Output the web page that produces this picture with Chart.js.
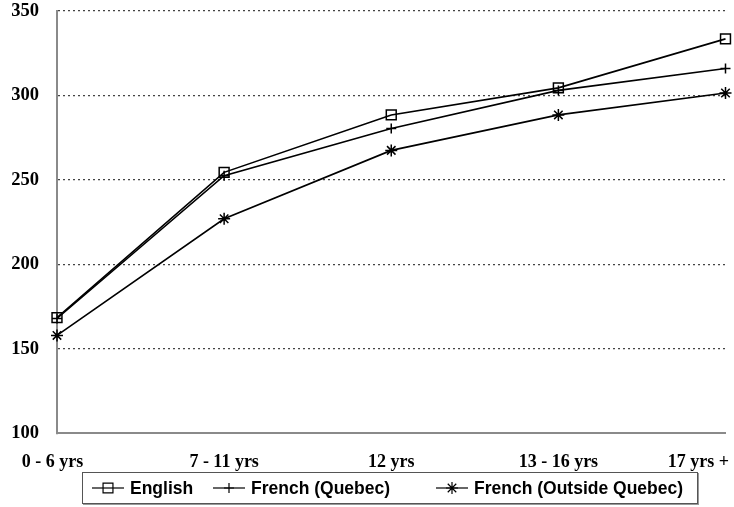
<!DOCTYPE html>
<html>
<head>
<meta charset="utf-8">
<script src="https://cdn.jsdelivr.net/npm/chart.js@4"></script>
<style>
  body { margin: 0; background: #fff; }
  #wrap { position: relative; width: 734px; height: 507px; }
  #legend {
    position: absolute; left: 82px; top: 472px; width: 614px; height: 30px;
    border: 1px solid #555; box-shadow: 1px 1px 0 #999;
    font: bold 17.5px "Liberation Sans", Arial, sans-serif; color: #000;
  }
  .item { position: absolute; top: 0; height: 30px; display: flex; align-items: center; white-space: nowrap; }
  .item canvas { margin-right: 6px; }
</style>
</head>
<body>
<div id="wrap">
  <canvas id="line-chart" width="734" height="507"></canvas>
  <div id="legend"></div>
</div>
<script>
const categories = ["0 - 6 yrs", "7 - 11 yrs", "12 yrs", "13 - 16 yrs", "17 yrs +"];
const english = [168.5, 254.5, 288.5, 304.5, 333.5];
const frenchQuebec = [168, 252.5, 280.5, 303, 316];
const frenchOutside = [158, 227, 267.5, 288.5, 301.5];
const yTicks = [100, 150, 200, 250, 300, 350];

const series = [
  { label: "English", data: english, style: "rect", radius: 7 },
  { label: "French (Quebec)", data: frenchQuebec, style: "cross", radius: 5 },
  { label: "French (Outside Quebec)", data: frenchOutside, style: "star", radius: 6 }
];

const serif = "'Liberation Serif', 'Times New Roman', serif";

const ctx = document.getElementById("line-chart");
const myChart = new Chart(ctx, {
  type: "line",
  data: {
    labels: categories,
    datasets: series.map(s => ({
      label: s.label,
      data: s.data,
      borderColor: "#000",
      borderWidth: 1.6,
      pointStyle: s.style,
      pointRadius: s.radius,
      pointBorderWidth: 1.5,
      pointBorderColor: "#000",
      pointBackgroundColor: "rgba(0,0,0,0)",
      tension: 0
    }))
  },
  options: {
    responsive: false,
    animation: false,
    layout: { padding: { top: 11, right: 8, bottom: 16, left: 0 } },
    plugins: {
      legend: { display: false },
      tooltip: { enabled: false }
    },
    scales: {
      x: {
        offset: false,
        grid: { display: false, drawTicks: false },
        border: { display: true, color: "#8a8a8a", width: 2 },
        ticks: {
          padding: 18,
          maxRotation: 0,
          autoSkip: false,
          color: "#000",
          font: { family: serif, size: 18, weight: "bold" },
          callback: function (v, i) {
            const t = categories[i];
            if (i === categories.length - 1) return t + "\u2003\u2003\u2003";
            if (i === 0) return t + "  ";
            return t;
          }
        },
        afterFit: function (scale) {
          scale.paddingLeft = 0;
          scale.paddingRight = 0;
        }
      },
      y: {
        min: 100,
        max: 350,
        afterBuildTicks: function (scale) {
          scale.ticks = yTicks.map(v => ({ value: v }));
        },
        grid: {
          drawTicks: false,
          color: c => c.tick && c.tick.value === 100 ? "rgba(0,0,0,0)" : "#444",
          lineWidth: 1.2
        },
        border: { display: true, color: "#8a8a8a", width: 2, dash: [2, 3] },
        ticks: {
          padding: 18,
          color: "#000",
          font: { family: serif, size: 18.5, weight: "bold" }
        },
        afterFit: function (scale) {
          scale.width = 57;
          scale.paddingTop = 0;
        }
      }
    }
  }
});

// legend: line + marker icon, then the label
const legendEl = document.getElementById("legend");
const iconX = [9, 130, 353];
series.forEach((s, i) => {
  const item = document.createElement("div");
  item.className = "item";
  item.style.left = iconX[i] + "px";
  const ic = document.createElement("canvas");
  ic.width = 32; ic.height = 20;
  const g = ic.getContext("2d");
  g.strokeStyle = "#000";
  g.fillStyle = "rgba(0,0,0,0)";
  g.lineWidth = 1.2;
  g.beginPath(); g.moveTo(0, 10); g.lineTo(32, 10); g.stroke();
  Chart.helpers.drawPoint(g, { pointStyle: s.style, radius: s.radius, rotation: 0, borderWidth: 1.2 }, 16, 10);
  item.appendChild(ic);
  const label = document.createElement("span");
  label.textContent = s.label;
  item.appendChild(label);
  legendEl.appendChild(item);
});
</script>
</body>
</html>
